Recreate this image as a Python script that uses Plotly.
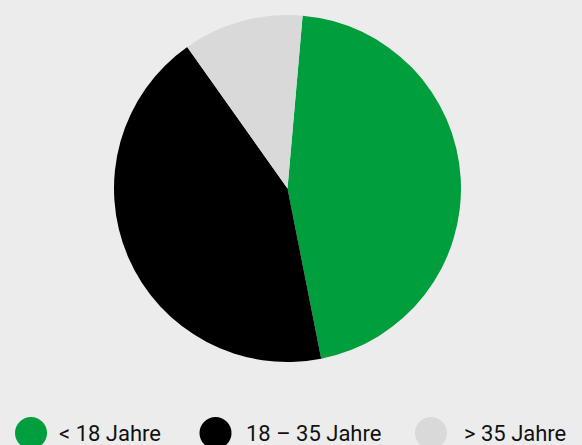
import plotly.graph_objects as go

categories = ["< 18 Jahre", "18 – 35 Jahre", "> 35 Jahre"]
values = [45.5, 43.3, 11.2]
colors = ["#009e3d", "#000000", "#d9d9d9"]

W, H = 582, 445
fig = go.Figure()
fig.add_trace(go.Pie(
    labels=categories, values=values, sort=False, direction="clockwise",
    rotation=5, marker=dict(colors=colors, line=dict(width=0)),
    textinfo="none", hoverinfo="label+percent", showlegend=False,
    domain=dict(x=[114 / W, 461 / W], y=[(H - 362) / H, (H - 15) / H]),
))

# custom circular legend
circle_x = [31, 215.5, 431]
text_x = [57, 244, 462]
shapes, annotations = [], []
r = 16
for cx, tx, lab, col in zip(circle_x, text_x, categories, colors):
    shapes.append(dict(type="circle", xref="paper", yref="paper",
                       x0=(cx - r) / W, x1=(cx + r) / W,
                       y0=(H - 417 - 2 * r) / H, y1=(H - 417) / H,
                       fillcolor=col, line=dict(width=0), layer="above"))
    annotations.append(dict(text=lab, xref="paper", yref="paper",
                            x=tx / W, y=(H - 433) / H,
                            xanchor="left", yanchor="middle", showarrow=False,
                            font=dict(size=22, color="#111111",
                                      family="Roboto, sans-serif")))

fig.update_layout(
    width=W, height=H, margin=dict(l=0, r=0, t=0, b=0),
    paper_bgcolor="#ececec", plot_bgcolor="#ececec",
    shapes=shapes, annotations=annotations,
)
fig.write_html("out.html", config={"displayModeBar": False},
               post_script="document.body.style.margin='0';document.body.style.overflow='hidden';")
